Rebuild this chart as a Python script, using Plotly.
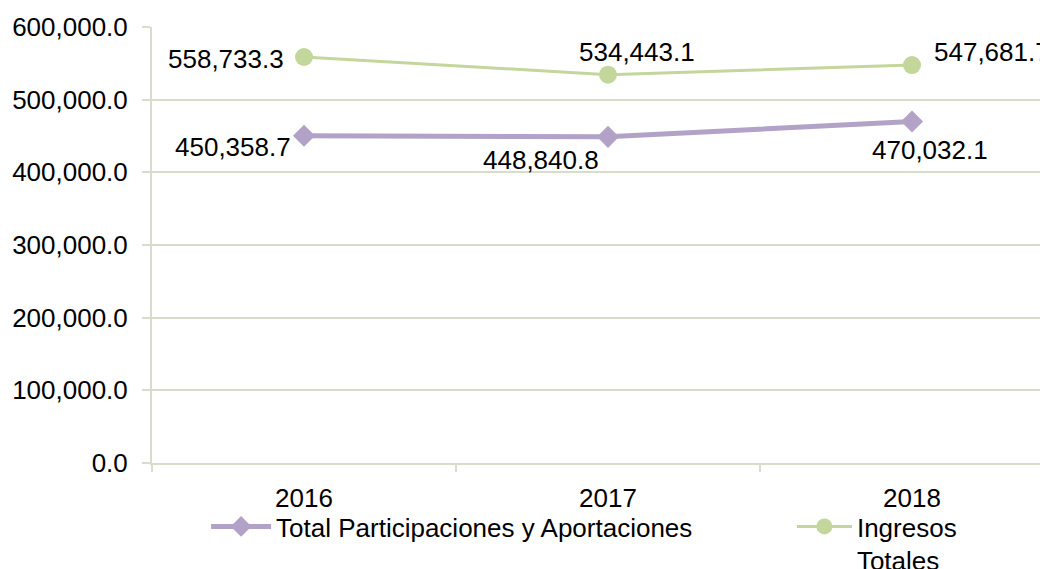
import plotly.graph_objects as go

years = ["2016", "2017", "2018"]
participaciones = [450358.7, 448840.8, 470032.1]
ingresos = [558733.3, 534443.1, 547681.7]
y_ticks = [0, 100000, 200000, 300000, 400000, 500000, 600000]

# label offsets in pixels (x, y up) relative to each point
part_shift = [(-71, -11), (-67, -23), (18, -29)]
ingr_shift = [(-78, -2), (29, 23), (80, 13)]

purple = "#B3A2C7"
green = "#C3D69B"
grid = "#D9DCCB"
font = dict(family="Liberation Sans, Arial, sans-serif", size=26, color="black")

fig = go.Figure()
fig.add_trace(go.Scatter(
    x=years, y=participaciones,
    mode="lines+markers",
    name="Total Participaciones y Aportaciones",
    line=dict(color=purple, width=5),
    marker=dict(symbol="diamond", size=17, color=purple),
    legend="legend",
))
fig.add_trace(go.Scatter(
    x=years, y=ingresos,
    mode="lines+markers",
    name="Ingresos<br>Totales",
    line=dict(color=green, width=3),
    marker=dict(symbol="circle", size=18, color=green),
    legend="legend2",
))

# annotations on a category axis take the category index as x
for values, shifts in [(participaciones, part_shift), (ingresos, ingr_shift)]:
    for i, (v, (dx, dy)) in enumerate(zip(values, shifts)):
        fig.add_annotation(
            x=i, y=v, xref="x", yref="y",
            text=f"{v:,.1f}", showarrow=False,
            xshift=dx, yshift=dy, font=font,
        )

# the page body adds an 8px offset, so margins are reduced by 8px
fig.update_layout(
    width=1048, height=569,
    margin=dict(l=144, r=8, t=19, b=114),
    paper_bgcolor="white", plot_bgcolor="white",
    font=font,
    showlegend=True,
    xaxis=dict(
        type="category", range=[-0.5, -0.5 + 896 / 304], automargin=False,
        showgrid=False, showline=True, linecolor=grid, linewidth=2,
        ticks="outside", tickson="boundaries", ticklen=7, tickcolor=grid, tickwidth=2,
        tickfont=font, ticklabelstandoff=11,
    ),
    yaxis=dict(
        range=[0, 600000], tickvals=y_ticks, tickformat=",.1f", automargin=False,
        showgrid=True, gridcolor=grid, gridwidth=2,
        showline=True, linecolor=grid, linewidth=2, zeroline=False,
        ticks="outside", ticklen=8, tickcolor=grid, tickwidth=2,
        tickfont=font, ticklabelstandoff=9,
    ),
    legend=dict(
        orientation="h", xref="container", yref="container",
        x=0.189, y=0.130, xanchor="left", yanchor="top",
        font=font, bgcolor="rgba(0,0,0,0)", itemwidth=60,
    ),
    legend2=dict(
        orientation="h", xref="container", yref="container",
        x=0.748, y=0.130, xanchor="left", yanchor="top",
        font=font, bgcolor="rgba(0,0,0,0)", valign="top", itemwidth=55,
    ),
)

fig.write_html("out.html")
